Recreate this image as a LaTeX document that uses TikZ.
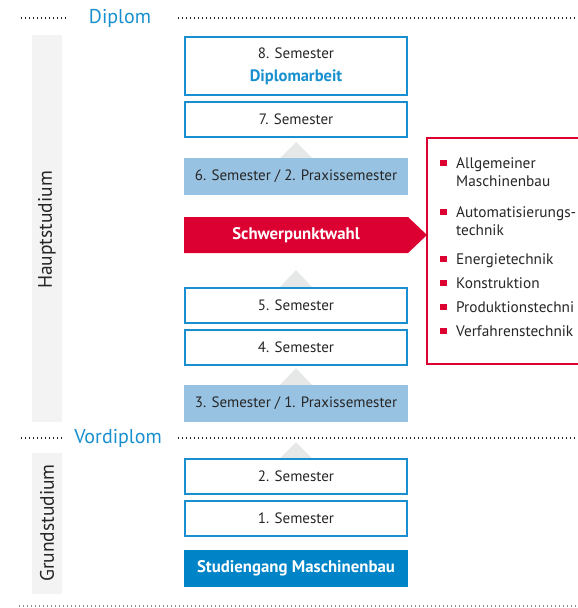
\documentclass[tikz,border=0pt]{standalone}
\usepackage{fontspec}
\setmainfont{PT Sans}
\definecolor{hsblue}{RGB}{24,144,208}
\definecolor{hsdark}{RGB}{0,132,200}
\definecolor{hslight}{RGB}{152,194,226}
\definecolor{hsred}{RGB}{220,0,50}
\definecolor{barg}{RGB}{243,243,243}
\definecolor{trig}{RGB}{230,232,232}
\tikzset{
  sem/.style={draw=hsblue,line width=1.4pt,fill=white,minimum width=222pt,minimum height=35pt,inner sep=0pt,font=\fontsize{15}{17}\selectfont,text=black!85},
  prax/.style={fill=hslight,minimum width=224pt,minimum height=37pt,inner sep=0pt,font=\fontsize{15}{17}\selectfont,text=black!85},
  boldtxt/.style={inner sep=0pt,text=white,font=\fontsize{16.8}{18}\selectfont\bfseries},
  dots/.style={line width=1.6pt,dash pattern=on 1.4pt off 2.6pt,draw=black!85},
  heading/.style={text=hsblue,font=\fontsize{20}{22}\selectfont,inner sep=0pt},
  side/.style={rotate=90,font=\fontsize{19.5}{22}\selectfont,text=black!85,inner sep=0pt},
  item/.style={anchor=base west,align=left,inner sep=0pt,font=\fontsize{15.3}{18.5}\selectfont,text=black!85},
  bullet/.style={fill=hsred,minimum size=6.5pt,inner sep=0pt},
  tri/.style={fill=trig,draw=none}
}
\begin{document}
\begin{tikzpicture}[x=1pt,y=-1pt]
\useasboundingbox (0,0) rectangle (578,608);
\clip (0,0) rectangle (578,608);
% grey side bars
\fill[barg] (32,35) rectangle (62,422);
\fill[barg] (32,453) rectangle (62,594);
\node[side] (haupt) at (47,230) {Hauptstudium};
\node[side] (grund) at (47,523) {Grundstudium};
% dotted lines and headings
\node[heading] (diplom) at (120,18) {Diplom};
\node[heading] (vordiplom) at (118,438) {Vordiplom};
\coordinate (d1) at (21,18); \coordinate (d2) at (66,18);
\coordinate (d3) at (178,18); \coordinate (d4) at (580,18);
\draw[dots] (d1) -- (d2);
\draw[dots] (d3) -- (d4);
\coordinate (v1) at (21,438); \coordinate (v2) at (62,438);
\coordinate (v3) at (178,438); \coordinate (v4) at (580,438);
\draw[dots] (v1) -- (v2);
\draw[dots] (v3) -- (v4);
\coordinate (b1) at (19,606); \coordinate (b2) at (580,606);
\draw[dots,draw=black!45,line width=1.3pt] (b1) -- (b2);
% triangles
\fill[tri] (280,158) -- (296,142) -- (312,158) -- cycle;
\fill[tri] (280,287) -- (296,270) -- (312,287) -- cycle;
\fill[tri] (280,385) -- (296,368) -- (312,385) -- cycle;
\fill[tri] (280,458) -- (296,442) -- (312,458) -- cycle;
% semester boxes
\node[sem,minimum height=58pt,align=center,font=\fontsize{15}{23}\selectfont] (s8) at (296,66) {8. Semester\\\textcolor{hsblue}{\fontsize{16.5}{23}\selectfont\textbf{Diplomarbeit}}};
\node[sem] (s7) at (296,119.5) {7. Semester};
\node[prax] (s6) at (296,176.5) {6. Semester / 2. Praxissemester};
\fill[hsred] (184,217) -- (408,217) -- (427,235) -- (408,253) -- (184,253) -- cycle;
\node[boldtxt] (sw) at (296,235) {Schwerpunktwahl};
\node[sem] (s5) at (296,305.5) {5. Semester};
\node[sem] (s4) at (296,347.5) {4. Semester};
\node[prax] (s3) at (296,403) {3. Semester / 1. Praxissemester};
\node[sem] (s2) at (296,476.5) {2. Semester};
\node[sem] (s1) at (296,518.5) {1. Semester};
\node[fill=hsdark,minimum width=224pt,minimum height=37pt,boldtxt] (sg) at (296,568.5) {Studiengang Maschinenbau};
% list box
\draw[hsred,line width=1.4pt] (427,138) rectangle (600,364);
\node[bullet] (q1) at (443.5,163) {};
\node[item] (i1) at (456,186.5) {Allgemeiner\\Maschinenbau};
\node[bullet] (q2) at (443.5,212) {};
\node[item] (i2) at (456,235.5) {Automatisierungs-\\technik};
\node[bullet] (q3) at (443.5,259) {};
\node[item] (i3) at (456,264) {Energietechnik};
\node[bullet] (q4) at (443.5,283) {};
\node[item] (i4) at (456,288) {Konstruktion};
\node[bullet] (q5) at (443.5,307) {};
\node[item] (i5) at (456,312) {Produktionstechni};
\node[bullet] (q6) at (443.5,331) {};
\node[item] (i6) at (456,336) {Verfahrenstechnik};
\end{tikzpicture}
\end{document}
